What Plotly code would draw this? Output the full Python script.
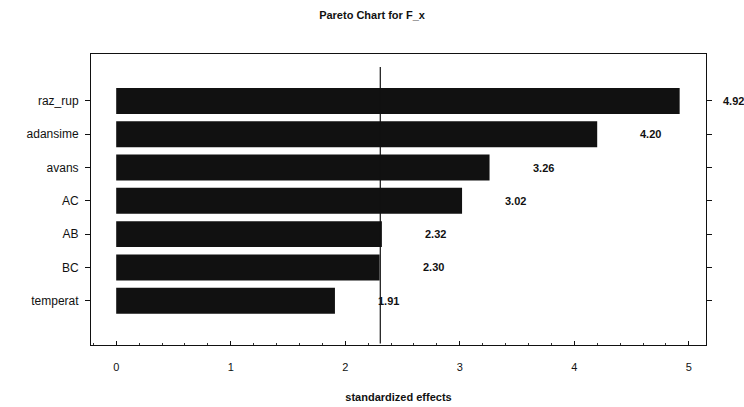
import plotly.graph_objects as go

factors = ["raz_rup", "adansime", "avans", "AC", "AB", "BC", "temperat"]
effects = [4.92, 4.20, 3.26, 3.02, 2.32, 2.30, 1.91]
labels = ["4.92", "4.20", "3.26", "3.02", "2.32", "2.30", "1.91"]
critical = 2.306
xticks = [0, 1, 2, 3, 4, 5]

font = "Liberation Sans, Arial, sans-serif"

fig = go.Figure()
fig.add_trace(go.Bar(
    x=effects, y=factors, orientation="h",
    marker=dict(color="#111111", line=dict(width=0)),
    width=0.78, showlegend=False,
))

for f, v, t in zip(factors, effects, labels):
    fig.add_annotation(x=v, y=f, text="<b>%s</b>" % t, showarrow=False,
                       xanchor="left", xshift=41,
                       font=dict(family=font, size=11, color="#111"))

fig.add_shape(type="line", x0=critical, x1=critical, xref="x",
              y0=0.005, y1=0.955, yref="paper",
              line=dict(color="#111", width=1.2))

fig.update_layout(
    width=744, height=407,
    margin=dict(l=91, r=38, t=54, b=62),
    paper_bgcolor="white", plot_bgcolor="white",
    title=dict(text="<b>Pareto Chart for F_x</b>", x=0.5, xanchor="center",
               y=1 - 15 / 407, yanchor="middle",
               font=dict(family=font, size=11, color="#111")),
    font=dict(family=font, size=11, color="#111"),
)
fig.update_xaxes(
    range=[-0.22, 5.15], tickvals=xticks, ticks="inside", ticklen=4,
    tickcolor="#111", showgrid=False, zeroline=False,
    showline=True, linecolor="#111", linewidth=1, mirror=True,
    minor=dict(ticks="inside", ticklen=2, dtick=0.2, tickcolor="#333"),
    ticklabelstandoff=12, automargin=False,
    title=dict(text="<b>standardized effects</b>", standoff=21,
               font=dict(family=font, size=11)),
    tickfont=dict(family=font, size=11),
)
fig.update_yaxes(
    categoryorder="array", categoryarray=factors[::-1],
    range=[6 - 7.33, 6 + 1.41],
    ticks="outside", ticklen=5, tickcolor="#111",
    showgrid=False, zeroline=False, automargin=False,
    showline=True, linecolor="#111", linewidth=1, mirror="ticks",
    ticklabelstandoff=4,
    tickfont=dict(family=font, size=12),
)
fig.write_html("out.html")
